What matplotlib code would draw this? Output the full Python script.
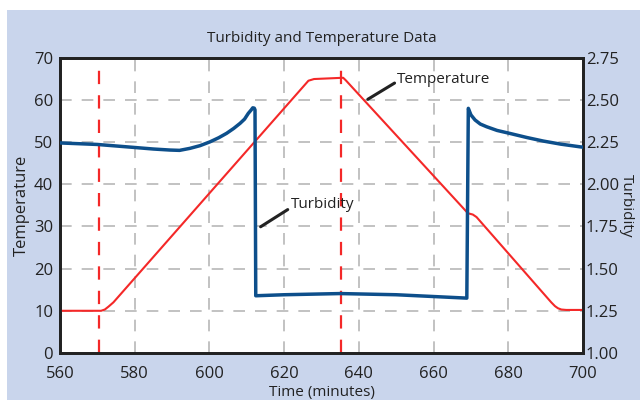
import matplotlib
matplotlib.use('Agg')
import matplotlib.pyplot as plt
from matplotlib.patches import Rectangle

plt.rcParams['font.family'] = ['Open Sans', 'DejaVu Sans']

# temperature curve (minutes, deg)
temp_t = [560, 571, 572, 573, 574.3, 626.5, 628, 635.8, 636.5, 669.2, 670.5, 671.5,
          691.5, 692.5, 693.3, 694.2, 695.5, 700]
temp_v = [10.0, 10.0, 10.3, 11.0, 12.0, 64.5, 64.9, 65.2, 64.6, 33.1, 32.8, 32.2,
          12.0, 11.1, 10.6, 10.3, 10.2, 10.2]

# turbidity curve (minutes, NTU)
turb_t = [560, 570, 579.5, 585, 589.4, 592, 594.8, 597.5, 600.2, 602.5, 604.6, 606.5, 608.2,
          609.4, 610.4, 611.2, 611.6, 612.0, 612.2, 612.4,
          620, 635, 650, 668.9, 669.3, 670.0, 671.1, 672.5, 674.2, 677, 680.5, 685, 689.4, 694, 699.2, 700]
turb_v = [2.244, 2.235, 2.218, 2.208, 2.202, 2.200, 2.212, 2.228, 2.251, 2.275, 2.301, 2.33, 2.36,
          2.385, 2.419, 2.44, 2.452, 2.45, 2.44, 1.339,
          1.345, 1.352, 1.345, 1.325, 2.449, 2.41, 2.38, 2.356, 2.34, 2.318, 2.30, 2.276, 2.255, 2.237, 2.221, 2.219]

event_t = [570.4, 635.2]

x_ticks = [560, 580, 600, 620, 640, 660, 680, 700]
temp_ticks = [0, 10, 20, 30, 40, 50, 60, 70]
turb_ticks = [1.00, 1.25, 1.50, 1.75, 2.00, 2.25, 2.50, 2.75]

bg = '#c9d5ec'
red = '#f42828'
blue = '#0d4f8b'
grid_c = '#b8b8b8'
ink = '#222222'

fig = plt.figure(figsize=(6.4, 4), dpi=100, facecolor='white')
fig.patches.append(Rectangle((7/640, 0), 1 - 7/640, 1 - 10/400, transform=fig.transFigure,
                             facecolor=bg, edgecolor='none', zorder=-10))

ax = fig.add_axes([60/640, 47/400, 523/640, 295.5/400])
ax.set_facecolor('white')
ax.set_xlim(560, 700)
ax.set_ylim(0, 70)
ax.set_xticks(x_ticks)
ax.set_yticks(temp_ticks)

for x in x_ticks[1:-1]:
    ax.axvline(x, color=grid_c, lw=1.2, dashes=(7, 6), zorder=1)
for y in temp_ticks[1:-1]:
    ax.axhline(y, color=grid_c, lw=1.2, dashes=(7, 6), zorder=1)
for x in event_t:
    ax.axvline(x, color=red, lw=1.6, dashes=(6, 5), zorder=2)

ax.plot(temp_t, temp_v, color=red, lw=1.5, zorder=3)

ax2 = ax.twinx()
ax2.set_ylim(1.0, 2.75)
ax2.set_yticks(turb_ticks)
ax2.set_yticklabels(['%.2f' % v for v in turb_ticks])
ax2.plot(turb_t, turb_v, color=blue, lw=2.5, zorder=4, solid_joinstyle='round')

for a in (ax, ax2):
    for s in a.spines.values():
        s.set_color(ink)
        s.set_linewidth(2)
    a.tick_params(length=0, labelsize=12, colors=ink)
ax.tick_params(axis='x', pad=9)
ax.tick_params(axis='y', pad=5)
ax2.tick_params(axis='y', pad=2)

ax.set_xlabel('Time (minutes)', fontsize=11, color=ink, labelpad=0)
ax.xaxis.set_label_coords(0.5, -0.108)
ax.set_ylabel('Temperature', fontsize=12, color=ink)
ax.yaxis.set_label_coords(-0.058, 0.5)
ax2.set_ylabel('Turbidity', fontsize=11, color=ink, rotation=270)
ax2.yaxis.set_label_coords(1.097, 0.5)
ax.set_title('Turbidity and Temperature Data', fontsize=11, color=ink, pad=11)

ax.annotate('Temperature', xy=(642.4, 60.1), xytext=(650.3, 64.7), fontsize=11, color=ink,
            ha='left', va='center', zorder=6,
            arrowprops=dict(arrowstyle='-', color=ink, lw=2.2, shrinkA=0, shrinkB=0, relpos=(0, 0.4)))
ax.annotate('Turbidity', xy=(613.7, 29.9), xytext=(621.7, 35.1), fontsize=11, color=ink,
            ha='left', va='center', zorder=6,
            arrowprops=dict(arrowstyle='-', color=ink, lw=2.2, shrinkA=0, shrinkB=0, relpos=(0, 0.3)))

fig.savefig('out.png', dpi=100, facecolor=fig.get_facecolor())
